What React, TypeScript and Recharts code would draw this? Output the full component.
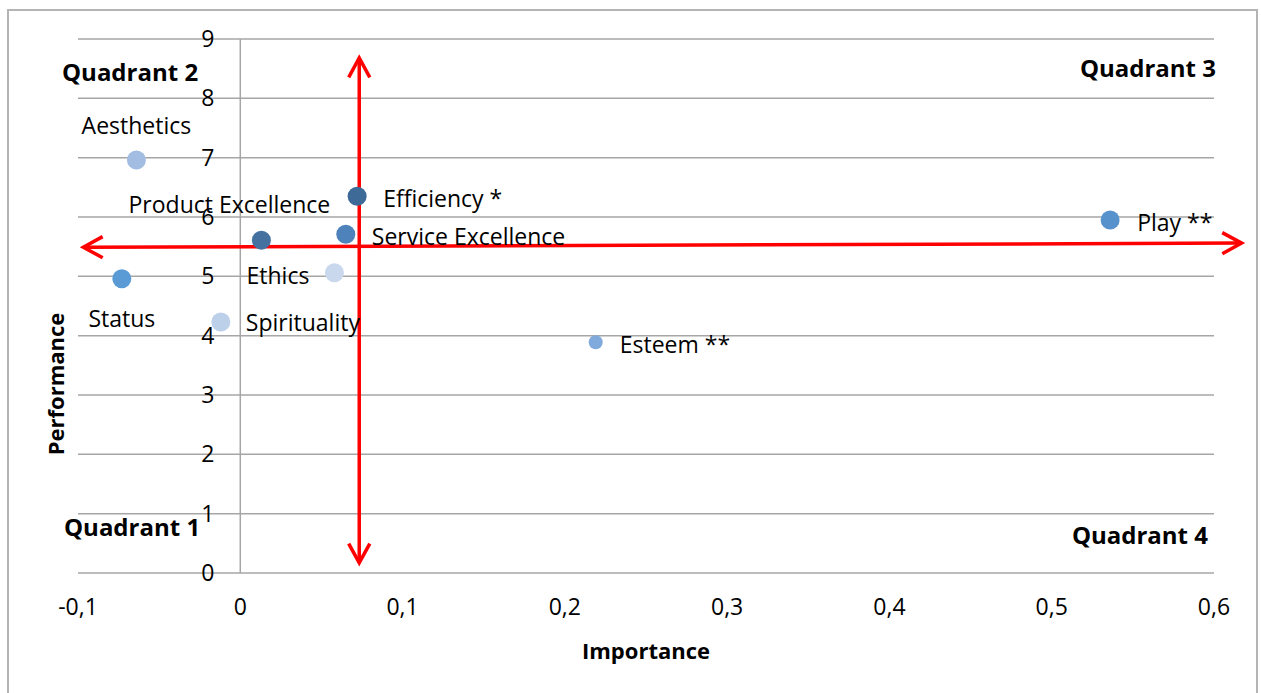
import React from "react";
import {
  ScatterChart,
  Scatter,
  XAxis,
  YAxis,
  CartesianGrid,
  ReferenceLine,
  ReferenceDot,
} from "recharts";

const NAMES = [
  "Aesthetics",
  "Status",
  "Spirituality",
  "Product Excellence",
  "Ethics",
  "Service Excellence",
  "Efficiency *",
  "Esteem **",
  "Play **",
];
const IMPORTANCE = [-0.064, -0.073, -0.012, 0.013, 0.058, 0.065, 0.072, 0.219, 0.536];
const PERFORMANCE = [6.96, 4.96, 4.23, 5.61, 5.06, 5.71, 6.35, 3.89, 5.95];

const X_TICKS = [-0.1, 0, 0.1, 0.2, 0.3, 0.4, 0.5, 0.6];
const Y_TICKS = [0, 1, 2, 3, 4, 5, 6, 7, 8, 9];

// quadrant divider arrows (data coords)
const V_ARROW = [
  { x: 0.0733, y: 8.68 },
  { x: 0.0733, y: 0.17 },
];
const H_ARROW = [
  { x: -0.0967, y: 5.49 },
  { x: 0.617, y: 5.56 },
];

const COLORS = [
  "#a3bde2",
  "#5b9bd5",
  "#bcd0ea",
  "#44719f",
  "#c9d8ec",
  "#4d82bb",
  "#3e6a98",
  "#80aadc",
  "#5892cd",
];
// label placement per point: [dx, dy, anchor]
const LABEL_POS: [number, number, string][] = [
  [0, -35, "middle"],
  [0, 39, "middle"],
  [25, 0, "start"],
  [-32, -36, "middle"],
  [-25, 2, "end"],
  [26, 2, "start"],
  [26, 2, "start"],
  [24, 2, "start"],
  [27, 2, "start"],
];

const data = NAMES.map((name, i) => ({
  name,
  x: IMPORTANCE[i],
  y: PERFORMANCE[i],
}));

const FONT = "'Open Sans', sans-serif";
const FS = 23;

function PointShape(props: any) {
  const { cx, cy, payload } = props;
  const i = NAMES.indexOf(payload.name);
  const [dx, dy, anchor] = LABEL_POS[i];
  const r = payload.name === "Esteem **" ? 7 : 9.5;
  return (
    <g>
      <circle cx={cx} cy={cy} r={r} fill={COLORS[i]} />
      <text
        x={cx + dx}
        y={cy + dy}
        textAnchor={anchor as any}
        dominantBaseline="central"
        fontSize={FS}
        fill="#000"
        fontFamily={FONT}
      >
        {payload.name}
      </text>
    </g>
  );
}

function ArrowShape(props: any) {
  const { x1, y1, x2, y2 } = props;
  const ang = Math.atan2(y2 - y1, x2 - x1);
  const L = 22;
  const a = 0.5;
  const head = (px: number, py: number, dir: number) => {
    const p1 = `${px - L * Math.cos(dir - a)},${py - L * Math.sin(dir - a)}`;
    const p2 = `${px - L * Math.cos(dir + a)},${py - L * Math.sin(dir + a)}`;
    return `${p1} ${px},${py} ${p2}`;
  };
  return (
    <g stroke="#ff0000" strokeWidth={3.5} fill="none">
      <line x1={x1} y1={y1} x2={x2} y2={y2} />
      <polyline points={head(x2, y2, ang)} />
      <polyline points={head(x1, y1, ang + Math.PI)} />
    </g>
  );
}

const fmt = (v: number) =>
  v === 0 ? "0" : v.toFixed(1).replace(".", ",");

const quad: React.CSSProperties = {
  position: "absolute",
  fontWeight: 700,
  fontSize: 24,
  fontFamily: FONT,
  lineHeight: "26px",
  color: "#000",
  whiteSpace: "nowrap",
};

export default function App() {
  return (
    <div
      style={{
        position: "fixed",
        left: 0,
        top: 0,
        width: 1261,
        height: 693,
        background: "#fff",
        fontFamily: FONT,
        overflow: "hidden",
      }}
    >
      <div
        style={{
          position: "absolute",
          left: 7,
          top: 9,
          width: 1247,
          height: 720,
          border: "2px solid #b4b4b4",
        }}
      />
      <ScatterChart
        width={1261}
        height={693}
        margin={{ top: 39, right: 47, left: 78, bottom: 20 }}
      >
        <CartesianGrid vertical={false} stroke="#a6a6a6" strokeWidth={1.5} />
        <XAxis
          type="number"
          dataKey="x"
          domain={[-0.1, 0.6]}
          ticks={X_TICKS}
          tickFormatter={fmt}
          axisLine={false}
          tickLine={false}
          tickSize={0}
          tickMargin={26}
          height={100}
          tick={{ fill: "#000", fontSize: FS, fontFamily: FONT }}
          label={{
            value: "Importance",
            position: "insideBottom",
            offset: 14,
            fill: "#000",
            fontSize: 22,
            fontWeight: 700,
            fontFamily: FONT,
          }}
        />
        <YAxis
          type="number"
          dataKey="y"
          domain={[0, 9]}
          ticks={Y_TICKS}
          hide
        />
        <ReferenceLine x={0} stroke="#a6a6a6" strokeWidth={1.5} />
        {Y_TICKS.map((t) => (
          <ReferenceDot
            key={t}
            x={0}
            y={t}
            r={0}
            fill="none"
            stroke="none"
            label={{
              value: t,
              position: "left",
              offset: 26,
              fill: "#000",
              fontSize: FS,
              fontFamily: FONT,
            }}
          />
        ))}
        <Scatter
          data={data}
          isAnimationActive={false}
          shape={(p: any) => <PointShape {...p} />}
        />
        <ReferenceLine
          segment={V_ARROW}
          ifOverflow="visible"
          shape={(p: any) => <ArrowShape {...p} />}
        />
        <ReferenceLine
          segment={H_ARROW}
          ifOverflow="visible"
          shape={(p: any) => <ArrowShape {...p} />}
        />
      </ScatterChart>
      <div style={{ ...quad, left: 62, top: 59 }}>Quadrant 2</div>
      <div style={{ ...quad, right: 1261 - 1216, top: 55 }}>Quadrant 3</div>
      <div style={{ ...quad, left: 64, top: 514 }}>Quadrant 1</div>
      <div style={{ ...quad, right: 1261 - 1208, top: 522 }}>Quadrant 4</div>
      <div
        style={{
          position: "absolute",
          left: 55,
          top: 384,
          transform: "translate(-50%, -50%) rotate(-90deg)",
          fontWeight: 700,
          fontSize: 22,
          fontFamily: FONT,
          color: "#000",
          whiteSpace: "nowrap",
        }}
      >
        Performance
      </div>
    </div>
  );
}
